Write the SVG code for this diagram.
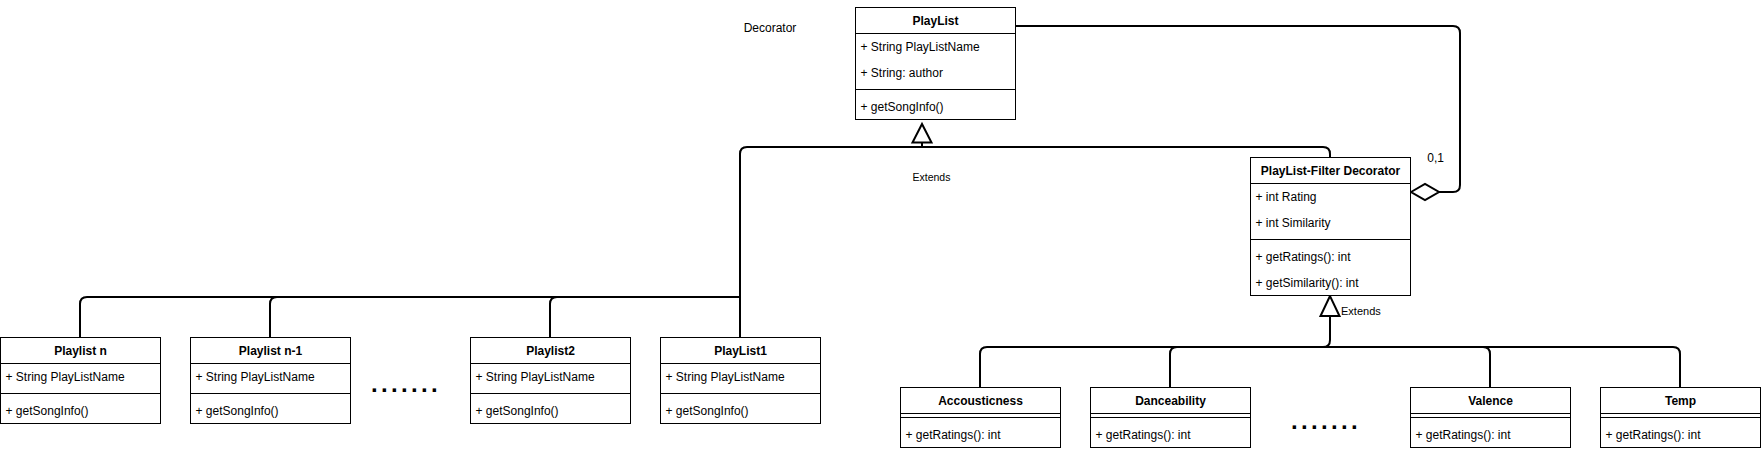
<svg xmlns="http://www.w3.org/2000/svg" width="1761" height="451" viewBox="0 0 1761 451">
<style>
.box{fill:#fff;stroke:#000;stroke-width:1}
.sep{stroke:#000;stroke-width:1}
.t{font-family:"Liberation Sans",Arial,sans-serif;font-size:12px;fill:#000}
.h{font-weight:bold;text-anchor:middle}
.c{fill:none;stroke:#000;stroke-width:2}
.head{fill:#fff;stroke:#000;stroke-width:2}
.dots{font-family:"Liberation Sans",Arial,sans-serif;font-size:24px;font-weight:bold;letter-spacing:3.33px;fill:#000}
.lbl{font-family:"Liberation Sans",Arial,sans-serif;font-size:11px;fill:#000}
</style>
<rect width="1761" height="451" fill="#fff"/>
<g id="connectors">
<path class="c" d="M740,337.5 V154 Q740,147 747,147 H1323 Q1330,147 1330,154 V157.5"/>
<path class="c" d="M922,147 V142.5"/>
<path class="c" d="M80,337.5 V304 Q80,297 87,297 H740"/>
<path class="c" d="M270,337.5 V304 Q270,297 277,297 H740"/>
<path class="c" d="M550,337.5 V304 Q550,297 557,297 H740"/>
<polygon class="head" points="922,124 912.5,142.5 931.5,142.5"/>
<path class="c" d="M980,387.5 V354 Q980,347 987,347 H1323 Q1330,347 1330,340 V316"/>
<path class="c" d="M1170,387.5 V354 Q1170,347 1177,347 H1330"/>
<path class="c" d="M1680,387.5 V354 Q1680,347 1673,347 H1328"/>
<path class="c" d="M1490,387.5 V354 Q1490,347 1483,347 H1328"/>
<polygon class="head" points="1330,296 1320.5,316 1339.5,316"/>
<path class="c" d="M1015.5,26 H1453 Q1460,26 1460,33 V185 Q1460,192 1453,192 H1439"/>
<polygon class="head" points="1411,192 1425,184 1439,192 1425,200"/>
<text class="t" x="770" y="31.7" text-anchor="middle">Decorator</text>
<text class="lbl" x="931.5" y="180.5" text-anchor="middle" style="font-size:10.5px">Extends</text>
<text class="t" x="1435.7" y="161.5" text-anchor="middle">0,1</text>
<text class="lbl" x="1341" y="315">Extends</text>
</g>
<g id="PlayList">
<rect class="box" x="855.5" y="7.5" width="160" height="112"/>
<line class="sep" x1="855.5" y1="33.5" x2="1015.5" y2="33.5"/>
<line class="sep" x1="855.5" y1="89.5" x2="1015.5" y2="89.5"/>
<text class="t h" x="935.5" y="24.5">PlayList</text>
<text class="t" x="860.5" y="50.5">+ String PlayListName</text>
<text class="t" x="860.5" y="76.5">+ String: author</text>
<text class="t" x="860.5" y="110.5">+ getSongInfo()</text>
</g>
<g id="FilterDecorator">
<rect class="box" x="1250.5" y="157.5" width="160" height="138"/>
<line class="sep" x1="1250.5" y1="183.5" x2="1410.5" y2="183.5"/>
<line class="sep" x1="1250.5" y1="239.5" x2="1410.5" y2="239.5"/>
<text class="t h" x="1330.5" y="174.5">PlayList-Filter Decorator</text>
<text class="t" x="1255.5" y="200.5">+ int Rating</text>
<text class="t" x="1255.5" y="226.5">+ int Similarity</text>
<text class="t" x="1255.5" y="260.5">+ getRatings(): int</text>
<text class="t" x="1255.5" y="286.5">+ getSimilarity(): int</text>
</g>
<g id="PlaylistN">
<rect class="box" x="0.5" y="337.5" width="160" height="86"/>
<line class="sep" x1="0.5" y1="363.5" x2="160.5" y2="363.5"/>
<line class="sep" x1="0.5" y1="393.5" x2="160.5" y2="393.5"/>
<text class="t h" x="80.5" y="354.5">Playlist n</text>
<text class="t" x="5.5" y="380.5">+ String PlayListName</text>
<text class="t" x="5.5" y="414.5">+ getSongInfo()</text>
</g>
<g id="PlaylistN1">
<rect class="box" x="190.5" y="337.5" width="160" height="86"/>
<line class="sep" x1="190.5" y1="363.5" x2="350.5" y2="363.5"/>
<line class="sep" x1="190.5" y1="393.5" x2="350.5" y2="393.5"/>
<text class="t h" x="270.5" y="354.5">Playlist n-1</text>
<text class="t" x="195.5" y="380.5">+ String PlayListName</text>
<text class="t" x="195.5" y="414.5">+ getSongInfo()</text>
</g>
<g id="DotsLeft">
<text class="dots" x="371.1" y="392.3">.......</text>
</g>
<g id="Playlist2">
<rect class="box" x="470.5" y="337.5" width="160" height="86"/>
<line class="sep" x1="470.5" y1="363.5" x2="630.5" y2="363.5"/>
<line class="sep" x1="470.5" y1="393.5" x2="630.5" y2="393.5"/>
<text class="t h" x="550.5" y="354.5">Playlist2</text>
<text class="t" x="475.5" y="380.5">+ String PlayListName</text>
<text class="t" x="475.5" y="414.5">+ getSongInfo()</text>
</g>
<g id="PlayList1">
<rect class="box" x="660.5" y="337.5" width="160" height="86"/>
<line class="sep" x1="660.5" y1="363.5" x2="820.5" y2="363.5"/>
<line class="sep" x1="660.5" y1="393.5" x2="820.5" y2="393.5"/>
<text class="t h" x="740.5" y="354.5">PlayList1</text>
<text class="t" x="665.5" y="380.5">+ String PlayListName</text>
<text class="t" x="665.5" y="414.5">+ getSongInfo()</text>
</g>
<g id="Accousticness">
<rect class="box" x="900.5" y="387.5" width="160" height="60"/>
<line class="sep" x1="900.5" y1="413.5" x2="1060.5" y2="413.5"/>
<line class="sep" x1="900.5" y1="417.5" x2="1060.5" y2="417.5"/>
<text class="t h" x="980.5" y="404.5">Accousticness</text>
<text class="t" x="905.5" y="438.5">+ getRatings(): int</text>
</g>
<g id="Danceability">
<rect class="box" x="1090.5" y="387.5" width="160" height="60"/>
<line class="sep" x1="1090.5" y1="413.5" x2="1250.5" y2="413.5"/>
<line class="sep" x1="1090.5" y1="417.5" x2="1250.5" y2="417.5"/>
<text class="t h" x="1170.5" y="404.5">Danceability</text>
<text class="t" x="1095.5" y="438.5">+ getRatings(): int</text>
</g>
<g id="DotsRight">
<text class="dots" x="1291.1" y="429">.......</text>
</g>
<g id="Valence">
<rect class="box" x="1410.5" y="387.5" width="160" height="60"/>
<line class="sep" x1="1410.5" y1="413.5" x2="1570.5" y2="413.5"/>
<line class="sep" x1="1410.5" y1="417.5" x2="1570.5" y2="417.5"/>
<text class="t h" x="1490.5" y="404.5">Valence</text>
<text class="t" x="1415.5" y="438.5">+ getRatings(): int</text>
</g>
<g id="Temp">
<rect class="box" x="1600.5" y="387.5" width="160" height="60"/>
<line class="sep" x1="1600.5" y1="413.5" x2="1760.5" y2="413.5"/>
<line class="sep" x1="1600.5" y1="417.5" x2="1760.5" y2="417.5"/>
<text class="t h" x="1680.5" y="404.5">Temp</text>
<text class="t" x="1605.5" y="438.5">+ getRatings(): int</text>
</g>
</svg>
